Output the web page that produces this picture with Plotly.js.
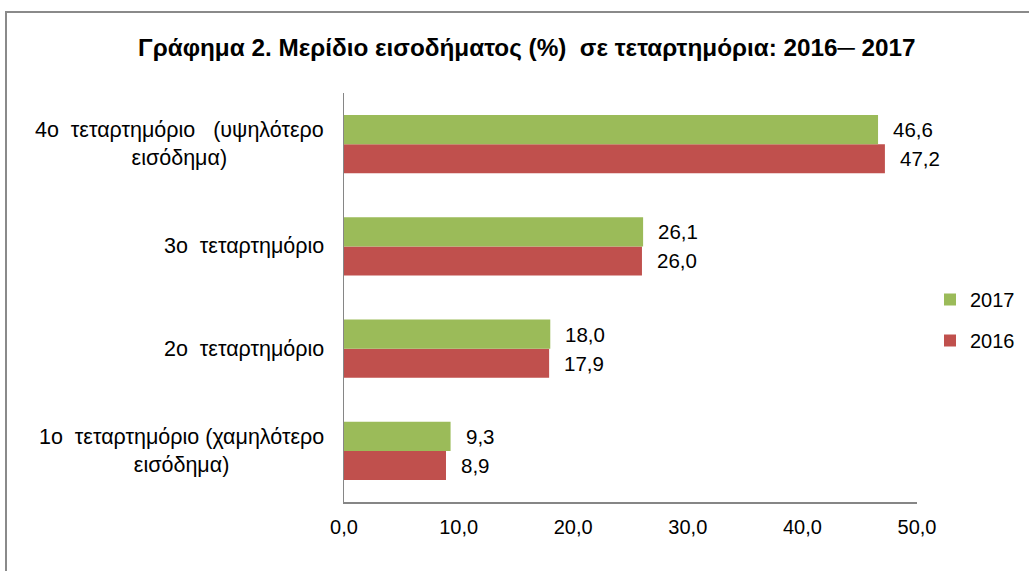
<!DOCTYPE html>
<html>
<head>
<meta charset="utf-8">
<script src="https://cdn.plot.ly/plotly-3.0.1.min.js"></script>
<style>
  html, body { margin: 0; padding: 0; overflow: hidden; background: #fff; }
  #chart { width: 1029px; height: 571px; }
  #frame { position: absolute; left: 5px; top: 11px; width: 1100px; height: 700px;
           border: 2px solid #8a8a8a; pointer-events: none; box-sizing: border-box; }
</style>
</head>
<body>
<div id="chart"></div>
<div id="frame"></div>
<script>
const categories = [
  "1ο\u00a0\u00a0τεταρτημόριο (χαμηλότερο<br>εισόδημα)",
  "2ο\u00a0\u00a0τεταρτημόριο",
  "3ο\u00a0\u00a0τεταρτημόριο",
  "4ο\u00a0\u00a0τεταρτημόριο\u00a0\u00a0\u00a0(υψηλότερο<br>εισόδημα)"
];
const seriesNames = ["2016", "2017"];
const values2016 = [8.9, 17.9, 26.0, 47.2];
const values2017 = [9.3, 18.0, 26.1, 46.6];
const xTicks = [0, 10, 20, 30, 40, 50];

const fontFamily = '"Liberation Sans", Arial, Helvetica, sans-serif';

const traces = [
  { type: 'bar', orientation: 'h', name: seriesNames[0], y: categories, x: values2016,
    marker: { color: '#C0504D' }, legendgroup: 'a', legendrank: 2, hoverinfo: 'x' },
  { type: 'bar', orientation: 'h', name: seriesNames[1], y: categories, x: values2017,
    marker: { color: '#9BBB59' }, legendgroup: 'b', legendrank: 1, hoverinfo: 'x' }
];

const fmt = v => v.toFixed(1).replace('.', ',');
const annotations = [];
// value labels
[values2016, values2017].forEach((vals, si) => {
  vals.forEach((v, i) => {
    annotations.push({
      x: v, y: categories[i], xref: 'x', yref: 'y',
      text: fmt(v), showarrow: false, xanchor: 'left', yanchor: 'middle',
      xshift: 13, yshift: si === 0 ? -14.5 : 14.5,
      font: { family: fontFamily, size: 20.5, color: '#000' }
    });
  });
});
// category labels (centered multi-line)
categories.forEach((c, i) => {
  annotations.push({
    x: 0, y: c, xref: 'paper', yref: 'y', text: c, showarrow: false,
    xanchor: 'right', yanchor: 'middle', align: 'center', xshift: -18,
    font: { family: fontFamily, size: 21.5, color: '#000' }
  });
});

const layout = {
  width: 1029, height: 571,
  margin: { l: 344, r: 112, t: 93, b: 69, pad: 0, autoexpand: false },
  paper_bgcolor: 'rgba(0,0,0,0)', plot_bgcolor: 'rgba(0,0,0,0)',
  separators: ',.',
  title: {
    text: 'Γράφημα 2. Μερίδιο εισοδήματος (%)\u00a0\u00a0σε τεταρτημόρια: 2016\u2500 2017',
    font: { family: fontFamily, size: 24.3, color: '#000', weight: 'bold' },
    xref: 'container', x: 0.512, xanchor: 'center',
    yref: 'container', y: 1 - 47 / 571, yanchor: 'middle'
  },
  barmode: 'group', bargap: 0.43, bargroupgap: 0,
  xaxis: {
    range: [0, 50], tickvals: xTicks, tickformat: '.1f', showgrid: false, zeroline: false,
    showline: true, linecolor: '#868686', linewidth: 1.5, ticks: '',
    tickfont: { family: fontFamily, size: 20, color: '#000' }, fixedrange: true,
    ticklabelstandoff: 6
  },
  yaxis: {
    type: 'category', categoryorder: 'array', categoryarray: categories,
    showticklabels: false, showgrid: false, zeroline: false,
    showline: true, linecolor: '#868686', linewidth: 1.5, ticks: '', fixedrange: true
  },
  legend: {
    xref: 'container', yref: 'container',
    x: 930 / 1029, xanchor: 'left', y: 1 - 320 / 571, yanchor: 'middle',
    traceorder: 'grouped', tracegroupgap: 12,
    font: { family: fontFamily, size: 20, color: '#000' },
    itemwidth: 30
  },
  showlegend: true,
  annotations: annotations
};

Plotly.newPlot('chart', traces, layout, { displayModeBar: false, staticPlot: true });
</script>
</body>
</html>
